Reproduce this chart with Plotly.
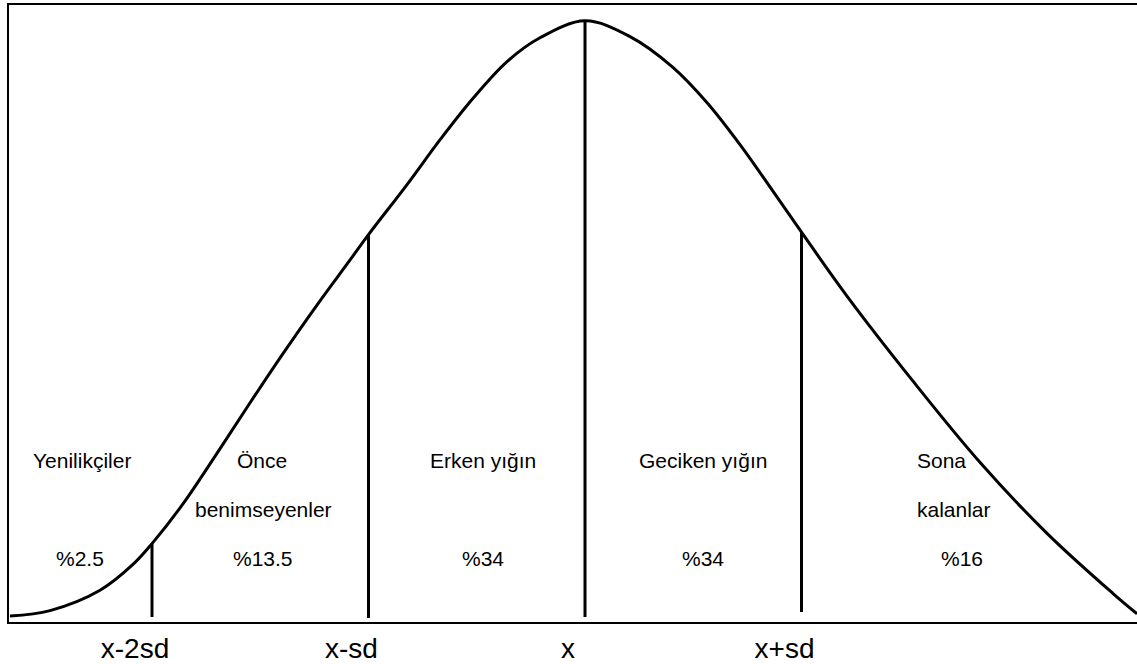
import plotly.graph_objects as go

# ---------------- data ----------------
# Bell curve: position in standard deviations from the mean, height as % of the peak
curve_sd = [-2.656, -2.471, -2.240, -2.088, -2.000, -1.857, -1.700, -1.547, -1.395,
            -1.238, -1.085, -1.000, -0.822, -0.670, -0.517, -0.360, -0.208, 0.000,
            0.208, 0.406, 0.564, 0.716, 0.868, 1.000, 1.210, 1.515, 1.824, 2.134,
            2.439, 2.550]
curve_height = [0.99, 1.90, 5.28, 9.57, 13.04, 19.64, 28.05, 36.47, 44.64,
                52.72, 60.23, 64.44, 72.77, 80.20, 87.13, 93.23, 97.19, 100.0,
                97.39, 92.28, 86.39, 79.42, 71.68, 64.85, 54.22, 40.07, 26.58, 14.75,
                4.74, 1.37]

# Division lines (in standard deviations) and the heights they span
divider_sd = [-2, -1, 0, 1]
divider_top = [13.04, 64.44, 100.0, 64.85]
divider_bottom = [0.83, 0.66, 0.83, 1.65]
divider_labels = ["x-2sd", "x-sd", "x", "x+sd"]

# Adopter groups
group_names = [["Yenilikçiler"], ["Önce", "benimseyenler"], ["Erken yığın"],
               ["Geciken yığın"], ["Sona", "kalanlar"]]
group_share = ["%2.5", "%13.5", "%34", "%34", "%16"]

# ---------------- layout helpers (pixel geometry of the frame) ----------------
W, H = 1137, 664
L, T, B = 9, 5, 627          # frame left, top, bottom in px
X_MEAN, SD_PX = 585, 216.5   # mean position and one sd in px
PEAK_PX = 21                 # y px of the curve's peak

def sd_of(px):
    return (px - X_MEAN) / SD_PX

def h_of(py):
    return (B - py) / (B - PEAK_PX) * 100

FONT = "Arial, Liberation Sans, sans-serif"

fig = go.Figure()

fig.add_trace(go.Scatter(
    x=curve_sd, y=curve_height, mode="lines",
    line=dict(color="black", width=3, shape="spline", smoothing=1),
    hoverinfo="skip"))

for s, top, bot in zip(divider_sd, divider_top, divider_bottom):
    fig.add_trace(go.Scatter(
        x=[s, s], y=[bot, top], mode="lines",
        line=dict(color="black", width=3), hoverinfo="skip"))

# label placements (px centres): name lines and share line per group
name_pos = [[(82, 464)], [(262, 464), (263, 514)], [(483, 464)], [(703, 464)],
            [(941, 464), (954, 514)]]
share_pos = [(80, 563), (263, 563), (483, 563), (703, 563), (962, 563)]

annotations = []
for names, poss, share, spos in zip(group_names, name_pos, group_share, share_pos):
    for name, (px, py) in zip(names, poss):
        annotations.append(dict(x=sd_of(px), y=h_of(py), xref="x", yref="y",
                                text=name, showarrow=False,
                                xanchor="center", yanchor="middle",
                                font=dict(family=FONT, size=21, color="black")))
    annotations.append(dict(x=sd_of(spos[0]), y=h_of(spos[1]), xref="x", yref="y",
                            text=share, showarrow=False,
                            xanchor="center", yanchor="middle",
                            font=dict(family=FONT, size=21, color="black")))

fig.update_layout(
    width=W, height=H,
    margin=dict(l=L, r=0, t=T, b=H - B),
    paper_bgcolor="white", plot_bgcolor="white",
    showlegend=False,
    annotations=annotations,
    xaxis=dict(range=[sd_of(L), sd_of(W)], showline=True, mirror=True,
               linecolor="black", linewidth=2, showgrid=False, zeroline=False,
               tickvals=divider_sd, ticktext=divider_labels, ticks="",
               ticklabelshift=-17,
               tickfont=dict(family=FONT, size=28, color="black"),
               fixedrange=True),
    yaxis=dict(range=[0, h_of(T)], showline=True, mirror=False,
               linecolor="black", linewidth=2, showgrid=False, zeroline=False,
               showticklabels=False, ticks="", fixedrange=True),
)

fig.write_html(
    "out.html",
    config={"displayModeBar": False},
    post_script="document.body.style.margin='0';document.body.style.overflow='hidden';",
)
